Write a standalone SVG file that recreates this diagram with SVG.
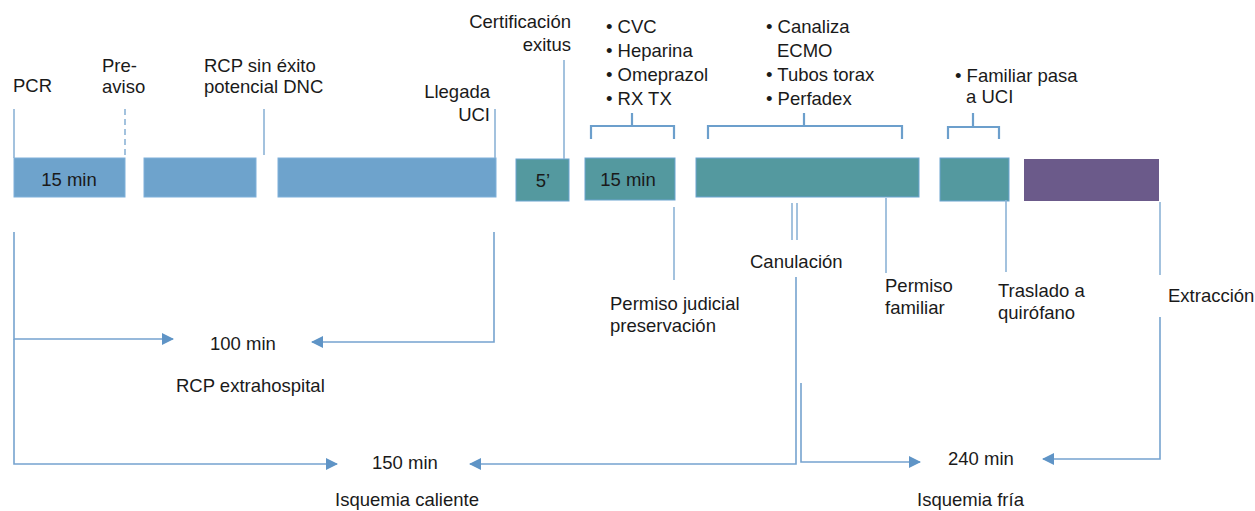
<svg xmlns="http://www.w3.org/2000/svg" width="1255" height="511" viewBox="0 0 1255 511">
<style>
text{font-family:"Liberation Sans",Arial,sans-serif;font-size:18.5px;fill:#1a1a1a}
.m{text-anchor:middle}
.e{text-anchor:end}
.blue{fill:#6ea3cc;stroke:#7fb0da;stroke-width:1}
.teal{fill:#54999f;stroke:#6aa4d0;stroke-width:1}
.purple{fill:#6b5a8a}
.ln{fill:none;stroke:#8cb3d6;stroke-width:1.6}
.br{fill:none;stroke:#6c9fcc;stroke-width:2.2}
.ar{fill:none;stroke:#76a3cf;stroke-width:1.6}
</style>
<defs>
<marker id="ah" markerWidth="12" markerHeight="12" refX="11" refY="6" orient="auto" markerUnits="userSpaceOnUse">
<path d="M0,0 L12,6 L0,12 Z" fill="#5f94c6"/>
</marker>
</defs>
<g id="nodes">
<g id="bar1"><rect class="blue" x="14" y="158" width="111" height="39"/><text class="m" x="69" y="186">15 min</text></g>
<g id="bar2"><rect class="blue" x="144" y="158" width="112" height="39"/></g>
<g id="bar3"><rect class="blue" x="278" y="158" width="218" height="39"/></g>
<g id="bar4"><rect class="teal" x="516" y="159" width="53" height="42"/><text class="m" x="543" y="187">5’</text></g>
<g id="bar5"><rect class="teal" x="585" y="158" width="90" height="42"/><text class="m" x="628" y="186">15 min</text></g>
<g id="bar6"><rect class="teal" x="696" y="158" width="223" height="39"/></g>
<g id="bar7"><rect class="teal" x="940" y="158" width="69" height="43"/></g>
<g id="bar8"><rect class="purple" x="1024" y="159" width="135" height="42"/></g>
</g>
<g id="labels">
<text x="13" y="92">PCR</text>
<text x="102" y="72">Pre-</text>
<text x="102" y="93">aviso</text>
<text x="204" y="72">RCP sin éxito</text>
<text x="204" y="93">potencial DNC</text>
<text class="e" x="490" y="98">Llegada</text>
<text class="e" x="490" y="121">UCI</text>
<text class="e" x="571" y="28">Certificación</text>
<text class="e" x="571" y="51">exitus</text>
<text x="606" y="33">• CVC</text>
<text x="606" y="57">• Heparina</text>
<text x="606" y="81">• Omeprazol</text>
<text x="606" y="105">• RX TX</text>
<text x="766" y="33">• Canaliza</text>
<text x="777" y="57">ECMO</text>
<text x="766" y="81">• Tubos torax</text>
<text x="766" y="105">• Perfadex</text>
<text x="955" y="82">• Familiar pasa</text>
<text x="966" y="103">a UCI</text>
<text x="610" y="310">Permiso judicial</text>
<text x="610" y="332">preservación</text>
<text x="750" y="268">Canulación</text>
<text x="885" y="292">Permiso</text>
<text x="885" y="314">familiar</text>
<text x="998" y="297">Traslado a</text>
<text x="998" y="319">quirófano</text>
<text x="1168" y="302">Extracción</text>
<text x="210" y="350">100 min</text>
<text x="176" y="392">RCP extrahospital</text>
<text x="372" y="469">150 min</text>
<text x="335" y="506">Isquemia caliente</text>
<text x="948" y="465">240 min</text>
<text x="917" y="506">Isquemia fría</text>
</g>
<g id="connectors">
<line class="ln" x1="14" y1="109" x2="14" y2="158"/>
<line class="ln" x1="125" y1="109" x2="125" y2="158" stroke-dasharray="6,4"/>
<line class="ln" x1="264" y1="109" x2="264" y2="155"/>
<line class="ln" x1="495" y1="109" x2="495" y2="158"/>
<line class="ln" x1="564" y1="60" x2="564" y2="159"/>
<path class="br" d="M591,139 V126 H674 V139 M632,126 V113"/>
<path class="br" d="M708,139 V126 H902 V139 M804,126 V113"/>
<path class="br" d="M948,139 V127 H999 V139 M973,127 V113"/>
<line class="ln" x1="674" y1="207" x2="674" y2="280"/>
<line class="ln" x1="792" y1="203" x2="792" y2="240"/>
<line class="ln" x1="797" y1="203" x2="797" y2="240"/>
<line class="ln" x1="886" y1="198" x2="886" y2="273"/>
<line class="ln" x1="1006" y1="200" x2="1006" y2="272"/>
<line class="ln" x1="1160" y1="202" x2="1160" y2="275"/>
<path class="ar" d="M14,232 V339 H173" marker-end="url(#ah)"/>
<path class="ar" d="M494,232 V342 H312" marker-end="url(#ah)"/>
<path class="ar" d="M14,339 V464 H337" marker-end="url(#ah)"/>
<path class="ar" d="M796,277 V464 H470" marker-end="url(#ah)"/>
<path class="ar" d="M801,383 V462 H920" marker-end="url(#ah)"/>
<path class="ar" d="M1160,317 V459 H1043" marker-end="url(#ah)"/>
</g>
</svg>
